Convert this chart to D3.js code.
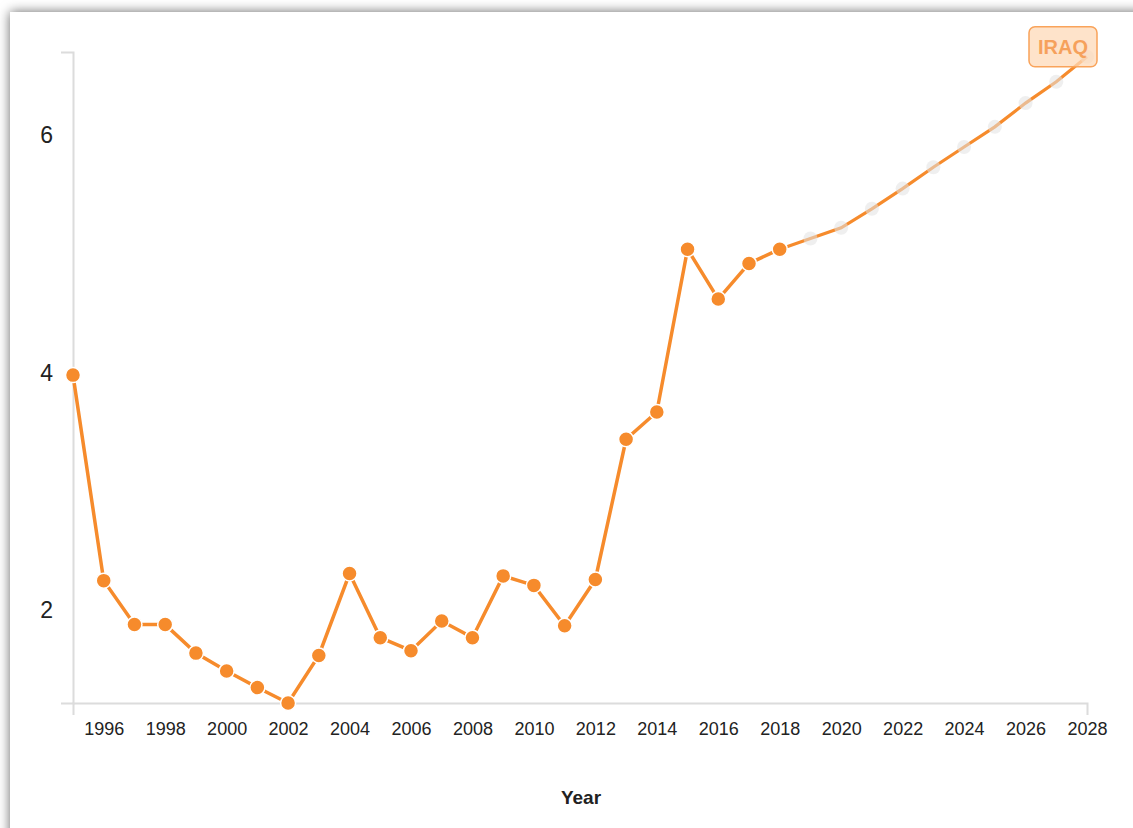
<!DOCTYPE html>
<html>
<head>
<meta charset="utf-8">
<script src="https://cdn.jsdelivr.net/npm/d3@7"></script>
<style>
  body { margin: 0; background: #fff; overflow: hidden; }
  #card {
    position: absolute; left: 10px; top: 12px; width: 1140px; height: 840px;
    background: #fff; box-shadow: 0 0 11px rgba(0,0,0,0.6);
  }
  #vis { position: absolute; left: 0; top: 0; }
  .axis path { stroke: #dcdcdc; stroke-width: 2; fill: none; }
  .axis line { display: none; }
  .axis text { font-family: "Liberation Sans", Arial, sans-serif; fill: #222; }
</style>
</head>
<body>
<div id="card"></div>
<div id="vis"></div>
<script>
// observed values (1995-2018)
var years = [1995, 1996, 1997, 1998, 1999, 2000, 2001, 2002, 2003, 2004, 2005, 2006,
             2007, 2008, 2009, 2010, 2011, 2012, 2013, 2014, 2015, 2016, 2017, 2018];
var values = [3.98, 2.25, 1.88, 1.88, 1.64, 1.49, 1.35, 1.22, 1.62, 2.31, 1.77, 1.66,
              1.91, 1.77, 2.29, 2.21, 1.87, 2.26, 3.44, 3.67, 5.04, 4.62, 4.92, 5.04];

// projection (2019-2028)
var projYears = [2019, 2020, 2021, 2022, 2023, 2024, 2025, 2026, 2027, 2028];
var projValues = [5.13, 5.22, 5.38, 5.55, 5.73, 5.90, 6.07, 6.27, 6.45, 6.66];

var xTicks = d3.range(1996, 2029, 2);
var yTicks = [2, 4, 6];
var yDomain = [1.22, 6.70];
var country = "IRAQ";

var width = 1133;
var height = 828;
var orange = "#f68b2c";

var svg = d3.select("#vis")
    .append("svg")
    .attr("width", width)
    .attr("height", height);

var x = d3.scaleLinear()
    .domain([1995, 2028])
    .range([73, 1087]);

var y = d3.scaleLinear()
    .domain(yDomain)
    .range([703, 52]);

var observed = years.map(function (d, i) { return {year: d, value: values[i]}; });
var projected = [observed[observed.length - 1]].concat(projYears.map(function (d, i) {
    return {year: d, value: projValues[i]};
}));

// axes
svg.append("g")
    .attr("class", "axis")
    .attr("transform", "translate(0,703)")
    .call(d3.axisBottom(x)
        .tickValues(xTicks)
        .tickFormat(d3.format("d"))
        .tickSizeInner(0)
        .tickSizeOuter(12)
        .tickPadding(19))
    .call(function (g) { g.selectAll("text").attr("font-size", 18); });

svg.append("g")
    .attr("class", "axis")
    .attr("transform", "translate(73,0)")
    .call(d3.axisLeft(y)
        .tickValues(yTicks)
        .tickFormat(d3.format("d"))
        .tickSizeInner(0)
        .tickSizeOuter(12)
        .tickPadding(20))
    .call(function (g) { g.selectAll("text").attr("font-size", 23); });

svg.append("text")
    .attr("x", 581)
    .attr("y", 804)
    .attr("text-anchor", "middle")
    .attr("font-family", "Liberation Sans, Arial, sans-serif")
    .attr("font-weight", "bold")
    .attr("font-size", 19)
    .attr("fill", "#222")
    .text("Year");

var line = d3.line()
    .x(function (d) { return x(d.year); })
    .y(function (d) { return y(d.value); });

// projected part
svg.append("path")
    .datum(projected)
    .attr("d", line)
    .attr("fill", "none")
    .attr("stroke", orange)
    .attr("stroke-width", 3.2);

svg.selectAll("circle.proj")
    .data(projected.slice(1))
    .enter().append("circle")
    .attr("class", "proj")
    .attr("cx", function (d) { return x(d.year); })
    .attr("cy", function (d) { return y(d.value); })
    .attr("r", 7)
    .attr("fill", "#e2e2e2")
    .attr("opacity", 0.55);

// observed part
svg.append("path")
    .datum(observed)
    .attr("d", line)
    .attr("fill", "none")
    .attr("stroke", orange)
    .attr("stroke-width", 3.5);

svg.selectAll("circle.obs")
    .data(observed)
    .enter().append("circle")
    .attr("class", "obs")
    .attr("cx", function (d) { return x(d.year); })
    .attr("cy", function (d) { return y(d.value); })
    .attr("r", 7.5)
    .attr("fill", orange)
    .attr("stroke", "#fff")
    .attr("stroke-width", 1.5);

// country label at the end of the line
var last = projected[projected.length - 1];
var lbl = svg.append("g")
    .attr("transform", "translate(" + (x(last.year) - 24) + "," + (y(last.value) - 10) + ")");

lbl.append("rect")
    .attr("x", -34)
    .attr("y", -20)
    .attr("width", 68)
    .attr("height", 40)
    .attr("rx", 6)
    .attr("fill", "#fdd9b8")
    .attr("fill-opacity", 0.75)
    .attr("stroke", "#f9a35a")
    .attr("stroke-width", 1.5);

lbl.append("text")
    .attr("y", 7)
    .attr("text-anchor", "middle")
    .attr("font-family", "Liberation Sans, Arial, sans-serif")
    .attr("font-weight", "bold")
    .attr("font-size", 20)
    .attr("fill", "#f6a15c")
    .text(country);
</script>
</body>
</html>
